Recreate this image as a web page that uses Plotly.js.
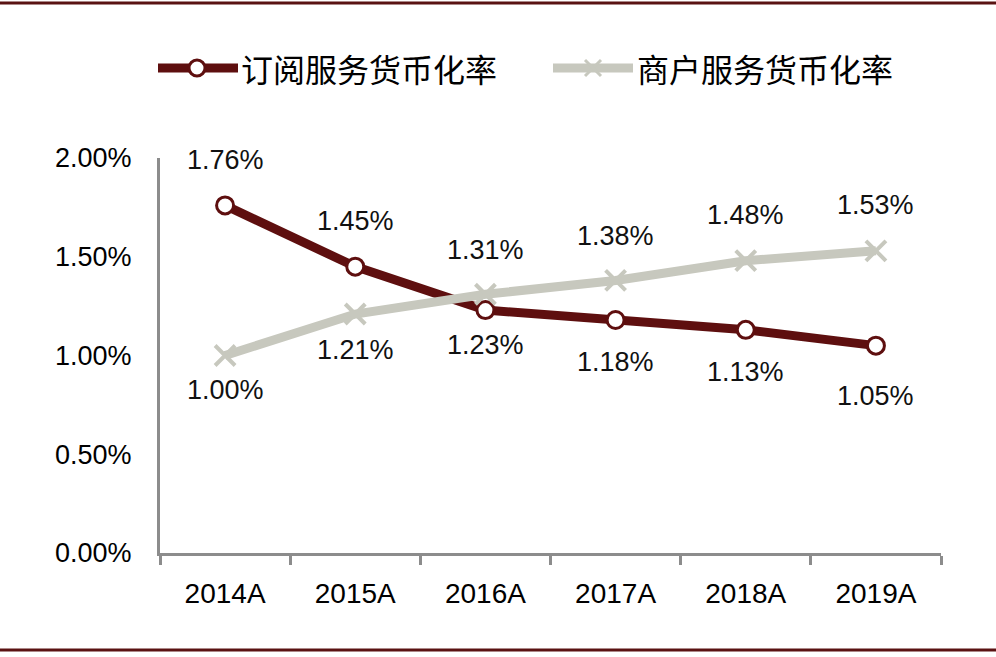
<!DOCTYPE html>
<html>
<head>
<meta charset="utf-8">
<script src="https://cdn.plot.ly/plotly-3.0.1.min.js"></script>
<style>
html,body{margin:0;padding:0;background:#fff;}
#chart{width:996px;height:657px;}
</style>
</head>
<body>
<div id="chart"></div>
<script>
// ---- data ----
var categories = ['2014A', '2015A', '2016A', '2017A', '2018A', '2019A'];
var subscriptionRate = [1.76, 1.45, 1.23, 1.18, 1.13, 1.05];
var merchantRate = [1.00, 1.21, 1.31, 1.38, 1.48, 1.53];
var seriesNames = ['订阅服务货币化率', '商户服务货币化率'];
var yTickVals = [0, 0.5, 1.0, 1.5, 2.0];
var yTickText = ['0.00%', '0.50%', '1.00%', '1.50%', '2.00%'];

// ---- styles ----
var RED = '#5E0F0F';
var GRAY = '#C7C8BE';
var AXIS = '#8C8C8C';
var LATIN = 'Liberation Sans, Arial, sans-serif';
var CJK = 'Noto Sans CJK SC, sans-serif';

// label placement (pixel shifts, + is up)
var redShift = [45, 46, -35, -42, -42, -50];
var grayShift = [-34, -36, 44, 44, 46, 46];

var traces = [
  {
    x: categories, y: subscriptionRate, name: seriesNames[0], type: 'scatter', mode: 'lines+markers',
    line: {color: RED, width: 9},
    marker: {symbol: 'circle', size: 17, color: '#ffffff', line: {color: RED, width: 3}},
    showlegend: false, hoverinfo: 'skip'
  },
  {
    x: categories, y: merchantRate, name: seriesNames[1], type: 'scatter', mode: 'lines+markers',
    line: {color: GRAY, width: 9},
    marker: {symbol: 'x-thin', size: 20, color: GRAY, line: {color: GRAY, width: 4}},
    showlegend: false, hoverinfo: 'skip'
  }
];

var annotations = [];
function addLabels(vals, shifts) {
  vals.forEach(function (v, i) {
    annotations.push({
      x: categories[i], y: v, xref: 'x', yref: 'y',
      text: v.toFixed(2) + '%', showarrow: false, yshift: shifts[i],
      font: {family: LATIN, size: 27, color: '#111111'}
    });
  });
}
addLabels(subscriptionRate, redShift);
addLabels(merchantRate, grayShift);

// legend (custom, paper coordinates)
var L = 160, W = 781, B = 553, H = 395;
function px(x) { return (x - L) / W; }
function py(y) { return (B - y) / H; }
var legY = py(68);
annotations.push({x: px(239), y: legY, xref: 'paper', yref: 'paper', xanchor: 'left', yanchor: 'middle',
  text: seriesNames[0], showarrow: false, font: {family: CJK, size: 32, color: '#000'}});
annotations.push({x: px(635), y: legY, xref: 'paper', yref: 'paper', xanchor: 'left', yanchor: 'middle',
  text: seriesNames[1], showarrow: false, font: {family: CJK, size: 32, color: '#000'}});

var shapes = [
  // top and bottom border lines
  {type: 'line', xref: 'paper', yref: 'paper', x0: px(0), x1: px(996), y0: py(3), y1: py(3), line: {color: '#5A1212', width: 3}},
  {type: 'line', xref: 'paper', yref: 'paper', x0: px(0), x1: px(996), y0: py(650), y1: py(650), line: {color: '#5A1212', width: 3}},
  // legend lines
  {type: 'line', xref: 'paper', yref: 'paper', x0: px(158), x1: px(238), y0: legY, y1: legY, line: {color: RED, width: 9}},
  {type: 'line', xref: 'paper', yref: 'paper', x0: px(553), x1: px(633), y0: legY, y1: legY, line: {color: GRAY, width: 9}},
  // legend circle marker
  {type: 'circle', xref: 'paper', yref: 'paper', xsizemode: 'pixel', ysizemode: 'pixel',
    xanchor: px(197), yanchor: legY, x0: -8, x1: 8, y0: -8, y1: 8,
    fillcolor: '#ffffff', line: {color: RED, width: 3}},
  // legend x marker
  {type: 'line', xref: 'paper', yref: 'paper', xsizemode: 'pixel', ysizemode: 'pixel',
    xanchor: px(593), yanchor: legY, x0: -8, x1: 8, y0: -8, y1: 8, line: {color: GRAY, width: 3}},
  {type: 'line', xref: 'paper', yref: 'paper', xsizemode: 'pixel', ysizemode: 'pixel',
    xanchor: px(593), yanchor: legY, x0: -8, x1: 8, y0: 8, y1: -8, line: {color: GRAY, width: 3}}
];

var layout = {
  width: 996, height: 657,
  margin: {l: 160, r: 55, t: 158, b: 104, pad: 0},
  paper_bgcolor: '#ffffff', plot_bgcolor: '#ffffff',
  showlegend: false,
  xaxis: {
    type: 'category', range: [-0.5, 5.5], showgrid: false, zeroline: false,
    showline: true, linecolor: AXIS, linewidth: 3,
    ticks: 'outside', tickson: 'boundaries', ticklen: 9, tickwidth: 3, tickcolor: AXIS,
    tickfont: {family: LATIN, size: 28, color: '#000'}, ticklabelstandoff: 13,
    fixedrange: true
  },
  yaxis: {
    range: [0, 2], tickmode: 'array', tickvals: yTickVals, ticktext: yTickText,
    showgrid: false, zeroline: false, showline: true, linecolor: AXIS, linewidth: 3,
    ticks: '', tickfont: {family: LATIN, size: 27, color: '#000'}, ticklabelstandoff: 20,
    fixedrange: true
  },
  annotations: annotations,
  shapes: shapes
};

Plotly.newPlot('chart', traces, layout, {displayModeBar: false, staticPlot: true});
</script>
</body>
</html>
